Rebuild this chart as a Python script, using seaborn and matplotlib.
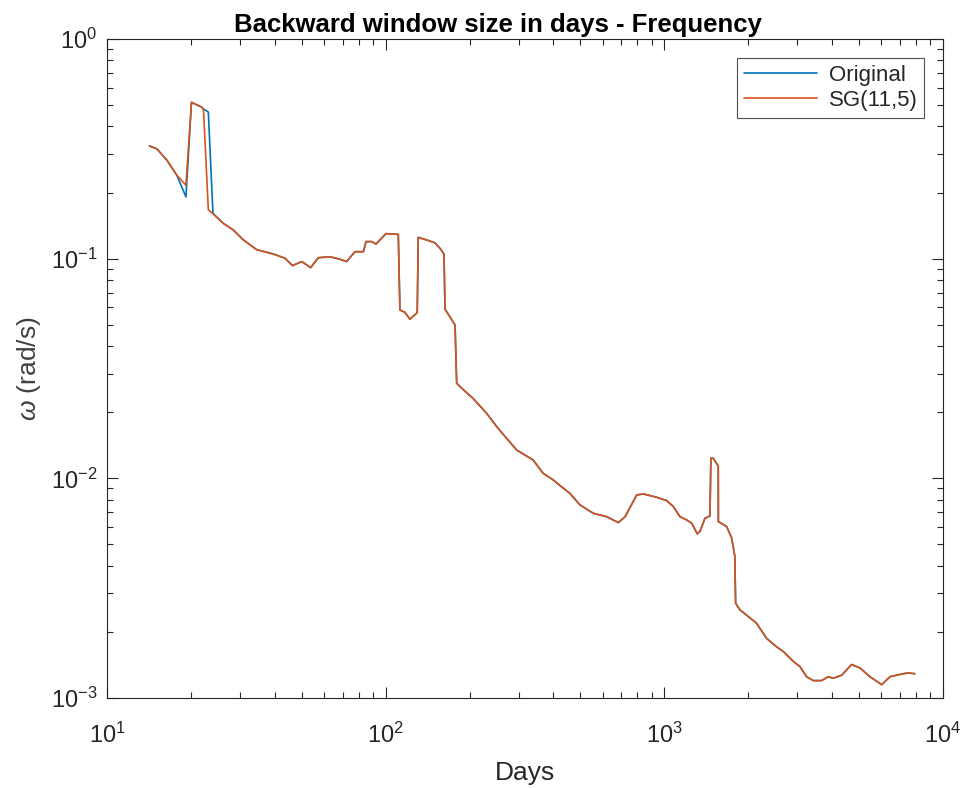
import numpy as np
import pandas as pd
import matplotlib
matplotlib.use("Agg")
import matplotlib.pyplot as plt
import seaborn as sns
from matplotlib.ticker import LogLocator, NullFormatter

# ---- data ----
head_days = [14.2, 15.1, 16.4, 17.8, 19.2, 20.1, 21.9, 22.2, 23.1, 24.0]
head_original = [0.326, 0.316, 0.281, 0.240, 0.191, 0.515, 0.489, 0.480, 0.465, 0.161]
head_sg = [0.326, 0.316, 0.281, 0.240, 0.216, 0.515, 0.489, 0.475, 0.167, 0.160]

tail_days = [26.1, 28.4, 30.8, 34.4, 39.5, 43.5, 46.3, 50.0, 53.8, 57.3, 63.1, 68.5,
             72.4, 77.6, 83.2, 85.0, 89.0, 92.3, 100.2, 111, 112.5, 117.2, 122.2,
             129.8, 130.9, 140.3, 150.3, 156.6, 161.9, 163.3, 177.4, 179.8, 190, 206,
             230, 253, 295, 338, 367, 399, 427, 458, 498, 556, 621, 684, 723, 796,
             841, 938, 1019, 1077, 1138, 1202, 1253, 1313, 1342, 1399, 1458, 1469,
             1497, 1561, 1563, 1672, 1740, 1767, 1791, 1802, 1867, 2000, 2142, 2327,
             2527, 2669, 2899, 3066, 3241, 3423, 3667, 3873, 4037, 4327, 4699, 5035,
             5468, 6024, 6450, 6815, 7200, 7500, 7925]
tail_values = [0.145, 0.135, 0.122, 0.110, 0.105, 0.1005, 0.093, 0.097, 0.091, 0.101,
               0.102, 0.0994, 0.097, 0.1076, 0.1076, 0.1196, 0.1196, 0.1166, 0.130,
               0.129, 0.0584, 0.057, 0.053, 0.0568, 0.125, 0.1217, 0.118, 0.1115,
               0.105, 0.0589, 0.0499, 0.0271, 0.0253, 0.0231, 0.0198, 0.0169,
               0.01346, 0.01213, 0.01055, 0.00984, 0.00917, 0.00855, 0.00757,
               0.00693, 0.00669, 0.00629, 0.00669, 0.00840, 0.00849, 0.0082,
               0.00792, 0.00744, 0.00669, 0.00647, 0.00625, 0.00559, 0.00573,
               0.00658, 0.00674, 0.01235, 0.01235, 0.01138, 0.00635, 0.00604,
               0.0054, 0.00489, 0.0044, 0.0027, 0.00252, 0.00235, 0.00219, 0.00187,
               0.00171, 0.00163, 0.00147, 0.00139, 0.00125, 0.0012, 0.0012, 0.00125,
               0.00123, 0.00127, 0.00142, 0.00137, 0.00125, 0.00115, 0.00125,
               0.00127, 0.00129, 0.0013, 0.00129]

series_names = ["Original", "SG(11,5)"]
series_colors = ["#0072BD", "#D95319"]

days = head_days + tail_days
original = head_original + tail_values
sg = head_sg + tail_values

df = pd.concat([
    pd.DataFrame({"Days": days, "omega": original, "series": series_names[0]}),
    pd.DataFrame({"Days": days, "omega": sg, "series": series_names[1]}),
], ignore_index=True)

# ---- style ----
sns.set_theme(style="ticks")
plt.rcParams["font.family"] = ["Liberation Sans", "DejaVu Sans"]
plt.rcParams["mathtext.fontset"] = "custom"
plt.rcParams["mathtext.rm"] = "Liberation Sans"
plt.rcParams["mathtext.it"] = "Liberation Sans:italic"
plt.rcParams["mathtext.bf"] = "Liberation Sans:bold"

fig = plt.figure(figsize=(9.68, 7.88), dpi=100)
ax = fig.add_axes([107 / 968, 1 - 698 / 788, (943 - 107) / 968, (698 - 39) / 788])
ax.set_xscale("log")
ax.set_yscale("log")

sns.lineplot(data=df, x="Days", y="omega", hue="series", palette=series_colors,
             hue_order=series_names, sort=False, estimator=None, units="series",
             linewidth=1.2, ax=ax)

ax.set_xlim(10, 1e4)
ax.set_ylim(1e-3, 1)
ax.xaxis.set_major_locator(LogLocator(base=10, numticks=10))
ax.yaxis.set_major_locator(LogLocator(base=10, numticks=10))
ax.xaxis.set_minor_locator(LogLocator(base=10, subs=np.arange(2, 10), numticks=100))
ax.yaxis.set_minor_locator(LogLocator(base=10, subs=np.arange(2, 10), numticks=100))
ax.xaxis.set_minor_formatter(NullFormatter())
ax.yaxis.set_minor_formatter(NullFormatter())

for side in ["top", "right", "left", "bottom"]:
    ax.spines[side].set_visible(True)
    ax.spines[side].set_color("#262626")
    ax.spines[side].set_linewidth(0.8)
ax.tick_params(which="both", direction="in", top=True, right=True, colors="#262626",
               labelcolor="#262626", labelsize=17, width=0.8)
ax.tick_params(which="major", length=8)
ax.tick_params(which="minor", length=4)
ax.tick_params(axis="x", which="major", pad=18)
ax.tick_params(axis="y", which="major", pad=7)

ax.set_xlabel("Days", fontsize=19, color="#262626", labelpad=9)
ax.set_ylabel(r"$\omega$ (rad/s)", fontsize=19, color="#404040")
ax.yaxis.set_label_coords(-0.077, 0.5)
ax.set_title("Backward window size in days - Frequency", fontsize=18.5, fontweight="bold",
             color="black", pad=5, x=0.468)

leg = ax.legend(loc="upper right", fontsize=16, frameon=True, fancybox=False,
                edgecolor="#262626", handlelength=3.3, borderaxespad=0.85,
                borderpad=0.3, labelspacing=0.2, handletextpad=0.5)
leg.get_frame().set_linewidth(0.8)
for line in leg.get_lines():
    line.set_linewidth(1.2)

fig.savefig("out.png", dpi=100)
